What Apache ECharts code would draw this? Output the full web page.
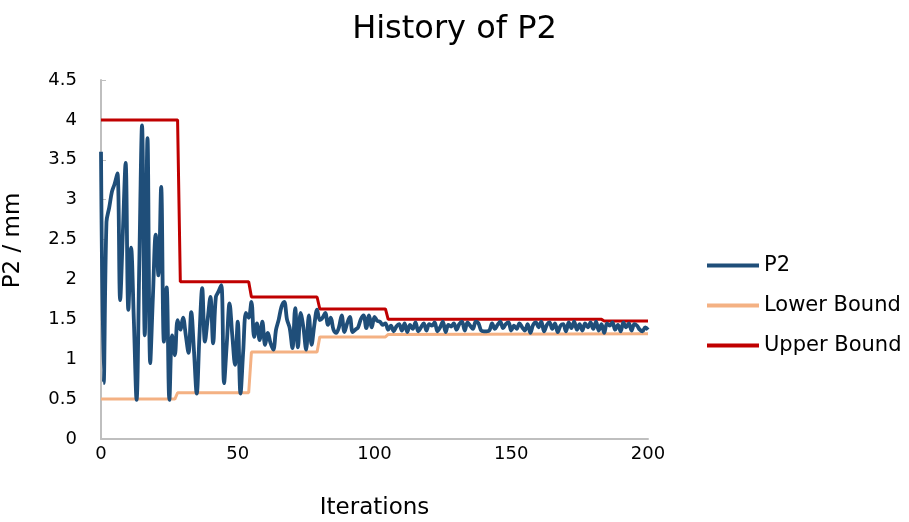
<!DOCTYPE html>
<html><head><meta charset="utf-8">
<script src="https://cdn.jsdelivr.net/npm/echarts@6/dist/echarts.min.js"></script>
<style>html,body{margin:0;padding:0;background:#fff}#c{width:909px;height:522px}</style>
</head><body><div id="c"></div>
<script>
// P2 value at each iteration 0..200
var p2Values = [
 3.6, 0.7, 2.72, 2.9, 3.1, 3.2, 3.33, 1.74, 2.6, 3.46,
 1.62, 2.4, 1.5, 0.49, 2.2, 3.93, 1.3, 3.77, 0.95, 1.8,
 2.56, 2.05, 3.16, 1.22, 1.9, 0.49, 1.3, 1.05, 1.49, 1.37,
 1.52, 1.3, 1.08, 1.59, 1.1, 0.57, 1.3, 1.89, 1.22, 1.5,
 1.78, 1.2, 1.78, 1.85, 1.93, 0.7, 1.2, 1.7, 1.3, 0.93,
 1.47, 0.57, 1.1, 1.58, 1.52, 1.72, 1.28, 1.45, 1.24, 1.47,
 1.18, 1.33, 1.2, 1.12, 1.37, 1.5, 1.66, 1.72, 1.5, 1.39,
 1.14, 1.64, 1.15, 1.58, 1.4, 1.12, 1.55, 1.18, 1.43, 1.62,
 1.49, 1.52, 1.58, 1.43, 1.52, 1.37, 1.33, 1.4, 1.55, 1.34,
 1.45, 1.53, 1.34, 1.37, 1.4, 1.5, 1.55, 1.39, 1.55, 1.4,
 1.53, 1.48, 1.47, 1.43, 1.45, 1.37, 1.42, 1.35, 1.41, 1.44,
 1.36, 1.45, 1.34, 1.43, 1.38, 1.46, 1.35, 1.4, 1.45, 1.36,
 1.44, 1.42, 1.46, 1.35, 1.4, 1.47, 1.34, 1.43, 1.41, 1.45,
 1.37, 1.44, 1.47, 1.36, 1.46, 1.42, 1.38, 1.47, 1.45, 1.36,
 1.35, 1.35, 1.36, 1.45, 1.38, 1.43, 1.47, 1.39, 1.44, 1.46,
 1.36, 1.42, 1.38, 1.45, 1.4, 1.36, 1.44, 1.33, 1.43, 1.46,
 1.4, 1.47, 1.35, 1.43, 1.46, 1.38, 1.45, 1.34, 1.42, 1.44,
 1.35, 1.46, 1.39, 1.47, 1.37, 1.44, 1.36, 1.45, 1.4, 1.46,
 1.38, 1.47, 1.36, 1.44, 1.33, 1.45, 1.42, 1.46, 1.37, 1.43,
 1.35, 1.46, 1.4, 1.45, 1.36, 1.44, 1.42, 1.37, 1.35, 1.4,
 1.37
];
// bound change points: [iteration, value]
var lowerBoundPoints = [[0,0.5],[27,0.5],[28,0.58],[54,0.58],[55,1.09],[79,1.09],[80,1.28],[104,1.28],[105,1.31],[200,1.32]];
var upperBoundPoints = [[0,4],[28,4],[29,1.97],[54,1.97],[55,1.78],[79,1.78],[80,1.63],[104,1.63],[105,1.5],[183,1.5],[184,1.48],[200,1.48]];
var yTicks = [0,0.5,1,1.5,2,2.5,3,3.5,4,4.5];
var xTicks = [0,50,100,150,200];

var FONT = 'DejaVu Sans';
var p2Data = p2Values.map(function(v,i){return [i,v];});
var chart = echarts.init(document.getElementById('c'), null, {renderer:'canvas'});
chart.setOption({
  backgroundColor:'#fff',
  animation:false,
  title:{text:'History of P2', left:'center', top:9,
    textStyle:{fontFamily:FONT, fontSize:32, fontWeight:'normal', color:'#000'}},
  grid:{left:101, right:261, top:80, bottom:83, containLabel:false, outerBoundsMode:'none'},
  legend:{orient:'vertical', left:702, top:250, itemWidth:52, itemHeight:4, itemGap:19,
    icon:'rect',
    textStyle:{fontFamily:FONT, fontSize:21, color:'#000'},
    data:['P2','Lower Bound','Upper Bound']},
  xAxis:{type:'value', min:xTicks[0], max:xTicks[xTicks.length-1], interval:50,
    name:'Iterations', nameLocation:'middle', nameGap:58,
    nameTextStyle:{fontFamily:FONT, fontSize:23, color:'#000'},
    axisLine:{lineStyle:{color:'#bfbfbf', width:2}},
    axisTick:{show:false},
    splitLine:{show:false},
    axisLabel:{fontFamily:FONT, fontSize:18, color:'#000', margin:6}},
  yAxis:{type:'value', min:yTicks[0], max:yTicks[yTicks.length-1], interval:0.5,
    name:'P2 / mm', nameLocation:'middle', nameGap:76, nameRotate:90,
    nameTextStyle:{fontFamily:FONT, fontSize:23, color:'#000', padding:[0,0,0,38]},
    axisLine:{show:true, lineStyle:{color:'#bfbfbf', width:2}},
    axisTick:{show:true, inside:true, length:5, lineStyle:{color:'#bfbfbf', width:1}},
    splitLine:{show:false},
    axisLabel:{fontFamily:FONT, fontSize:18, color:'#000', margin:24}},
  series:[
    {name:'P2', type:'line', data:p2Data, smooth:0.35, showSymbol:false, z:3,
      lineStyle:{color:'#1f4e79', width:3.8}, itemStyle:{color:'#1f4e79'}},
    {name:'Lower Bound', type:'line', data:lowerBoundPoints, showSymbol:false, z:2,
      lineStyle:{color:'#f4b183', width:3}, itemStyle:{color:'#f4b183'}},
    {name:'Upper Bound', type:'line', data:upperBoundPoints, showSymbol:false, z:2,
      lineStyle:{color:'#c00000', width:3}, itemStyle:{color:'#c00000'}}
  ]
});
</script></body></html>
